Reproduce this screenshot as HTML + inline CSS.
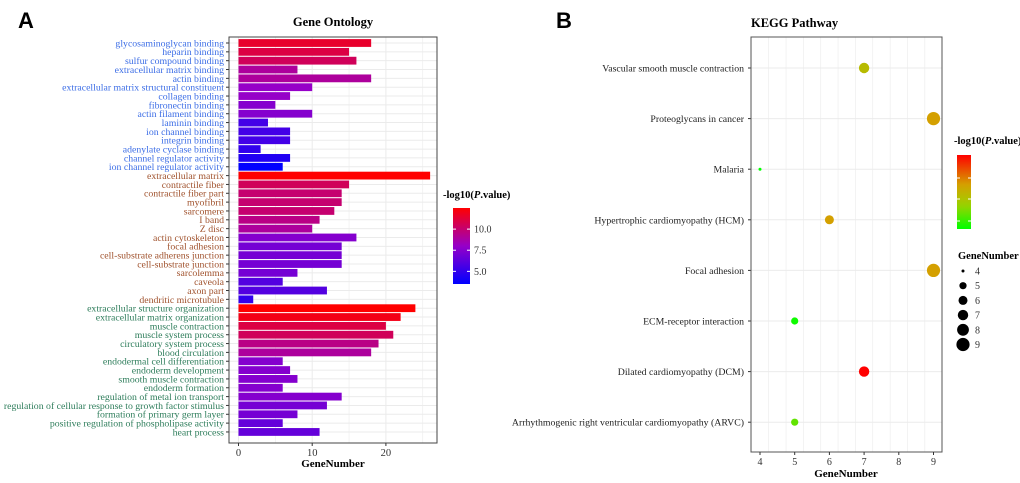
<!DOCTYPE html>
<html><head><meta charset="utf-8"><style>
html,body{margin:0;padding:0;background:#fff;}
svg{display:block;font-family:"Liberation Serif",serif;}
</style></head><body>
<svg id="s" width="1020" height="483" viewBox="0 0 1020 483"></svg>
<script>
const goTerms=["glycosaminoglycan binding","heparin binding","sulfur compound binding","extracellular matrix binding","actin binding","extracellular matrix structural constituent","collagen binding","fibronectin binding","actin filament binding","laminin binding","ion channel binding","integrin binding","adenylate cyclase binding","channel regulator activity","ion channel regulator activity","extracellular matrix","contractile fiber","contractile fiber part","myofibril","sarcomere","I band","Z disc","actin cytoskeleton","focal adhesion","cell-substrate adherens junction","cell-substrate junction","sarcolemma","caveola","axon part","dendritic microtubule","extracellular structure organization","extracellular matrix organization","muscle contraction","muscle system process","circulatory system process","blood circulation","endodermal cell differentiation","endoderm development","smooth muscle contraction","endoderm formation","regulation of metal ion transport","regulation of cellular response to growth factor stimulus","formation of primary germ layer","positive regulation of phospholipase activity","heart process"];
const goCategory=["MF","MF","MF","MF","MF","MF","MF","MF","MF","MF","MF","MF","MF","MF","MF","CC","CC","CC","CC","CC","CC","CC","CC","CC","CC","CC","CC","CC","CC","CC","BP","BP","BP","BP","BP","BP","BP","BP","BP","BP","BP","BP","BP","BP","BP"];
const goCounts=[18,15,16,8,18,10,7,5,10,4,7,7,3,7,6,26,15,14,14,13,11,10,16,14,14,14,8,6,12,2,24,22,20,21,19,18,6,7,8,6,14,12,8,6,11];
const goLogP=[11.5,11,10.5,9,9,8,8,7.5,7.5,5.5,5.5,5.5,5,4.5,3.5,12.5,10.5,10,10,10,9.5,9,7.5,7,7,7,7,6,6,5,12.5,12,11,10.5,9.5,9,7.5,7.5,7.5,7.5,7.5,7,7,6.5,6.5];
const goXTicks=[0,10,20];
const goLegendTicks=[5.0,7.5,10.0];

const keggTerms=["Vascular smooth muscle contraction","Proteoglycans in cancer","Malaria","Hypertrophic cardiomyopathy (HCM)","Focal adhesion","ECM-receptor interaction","Dilated cardiomyopathy (DCM)","Arrhythmogenic right ventricular cardiomyopathy (ARVC)"];
const keggCounts=[7,9,4,6,9,5,7,5];
const keggLogP=[0.45,0.6,0,0.6,0.6,0.03,1,0.2];
const keggXTicks=[4,5,6,7,8,9];
const keggSizeLegend=[4,5,6,7,8,9];

const svg=document.getElementById('s');
const NS="http://www.w3.org/2000/svg";
function mk(tag,attrs,parent,txt){const e=document.createElementNS(NS,tag);for(const k in attrs)e.setAttribute(k,attrs[k]);if(txt!==undefined)e.textContent=txt;(parent||svg).appendChild(e);return e;}
function hex(c){return "rgb("+c.map(v=>Math.round(v)).join(",")+")";}
function lerp(a,b,t){return a.map((v,i)=>v+(b[i]-v)*t);}
function grad(stops,t){t=Math.max(0,Math.min(1,t));for(let i=1;i<stops.length;i++){if(t<=stops[i][0]){const u=(t-stops[i-1][0])/(stops[i][0]-stops[i-1][0]);return hex(lerp(stops[i-1][1],stops[i][1],u));}}return hex(stops[stops.length-1][1]);}
const goStops=[[0,[0,0,255]],[0.5,[150,0,200]],[1,[255,0,0]]];
const keggStops=[[0,[0,255,0]],[0.33,[160,208,0]],[0.6,[212,160,0]],[1,[255,0,0]]];

// ---------- Panel A ----------
const A={l:229,r:437,t:37,b:443};
const gx=v=>238.5+(v-0)*7.37;
const gy=i=>43+i*8.84;
const pMin=3.5,pMax=12.5;
mk('text',{x:18,y:28,'font-family':'Liberation Sans,sans-serif','font-weight':'bold','font-size':22,},svg,'A');
mk('text',{x:333,y:26,'text-anchor':'middle','font-weight':'bold','font-size':12.5,},svg,'Gene Ontology');
const ga=mk('g',{});
mk('rect',{x:A.l,y:A.t,width:A.r-A.l,height:A.b-A.t,fill:'#fff'},ga);
for(let v=-0;v<=27;v+=5){const x=gx(v);if(x>A.r)break;const g=mk('line',{x1:x,x2:x,y1:A.t,y2:A.b,stroke:'#ebebeb','stroke-width':v%10===0?1:0.6},ga);}
goTerms.forEach((t,i)=>{mk('line',{x1:A.l,x2:A.r,y1:gy(i),y2:gy(i),stroke:'#ebebeb','stroke-width':1},ga);});
const catColor={MF:'#3d6ee6',CC:'#a0522d',BP:'#2e7d5b'};
goTerms.forEach((t,i)=>{
  const b=mk('rect',{x:gx(0),y:gy(i)-3.9,width:gx(goCounts[i])-gx(0),height:7.8,fill:grad(goStops,(goLogP[i]-pMin)/(pMax-pMin))},ga);
  
  
  const l=mk('text',{x:A.l-5,y:gy(i)+3.4,'text-anchor':'end','font-size':9.8,fill:catColor[goCategory[i]]},svg,t);
  
  
  mk('line',{x1:A.l-3,x2:A.l,y1:gy(i),y2:gy(i),stroke:'#333'},svg);
});
mk('rect',{x:A.l,y:A.t,width:A.r-A.l,height:A.b-A.t,fill:'none',stroke:'#444','stroke-width':1,});
goXTicks.forEach(v=>{mk('line',{x1:gx(v),x2:gx(v),y1:A.b,y2:A.b+3,stroke:'#333'});const t=mk('text',{x:gx(v),y:A.b+13,'text-anchor':'middle','font-size':10.5,fill:'#333'},svg,String(v));});
mk('text',{x:333,y:467,'text-anchor':'middle','font-weight':'bold','font-size':11,},svg,'GeneNumber');
const lt=mk('text',{x:443,y:198,'font-weight':'bold','font-size':10.5,},svg);
lt.innerHTML='-log10(<tspan font-style="italic">P</tspan>.value)';
const defs=mk('defs',{});
const lg=mk('linearGradient',{id:'ga',x1:0,y1:1,x2:0,y2:0},defs);
for(let k=0;k<=10;k++)mk('stop',{offset:k/10,'stop-color':grad(goStops,k/10)},lg);
const cbT=208,cbB=284;
mk('rect',{x:453,y:cbT,width:17,height:cbB-cbT,fill:'url(#ga)',});
const cy=v=>cbB-(v-pMin)/(pMax-pMin)*(cbB-cbT);
goLegendTicks.forEach(v=>{mk('line',{x1:453,x2:456,y1:cy(v),y2:cy(v),stroke:'#fff'});mk('line',{x1:467,x2:470,y1:cy(v),y2:cy(v),stroke:'#fff'});const t=mk('text',{x:474,y:cy(v)+3.5,'font-size':10,fill:'#333'},svg,v.toFixed(1));});

// ---------- Panel B ----------
const B={l:751,r:942,t:37,b:452};
const kx=v=>760+(v-4)*34.7;
const ky=i=>68+i*50.6;
const rs=n=>({4:1.5,5:3.6,6:4.5,7:5.2,8:5.9,9:6.6})[n]||(1.5+(n-4)*1.0);
mk('text',{x:556,y:28,'font-family':'Liberation Sans,sans-serif','font-weight':'bold','font-size':22,},svg,'B');
mk('text',{x:751,y:27,'font-weight':'bold','font-size':12.5,},svg,'KEGG Pathway');
const gb=mk('g',{});
for(let v=3.75;v<=9.25;v+=0.5){const x=kx(v);if(x<B.l||x>B.r)continue;mk('line',{x1:x,x2:x,y1:B.t,y2:B.b,stroke:'#ebebeb','stroke-width':Number.isInteger(v)?1:0.6},gb);}
keggTerms.forEach((t,i)=>{mk('line',{x1:B.l,x2:B.r,y1:ky(i),y2:ky(i),stroke:'#ebebeb','stroke-width':1},gb);});
keggTerms.forEach((t,i)=>{
  const c=mk('circle',{cx:kx(keggCounts[i]),cy:ky(i),r:rs(keggCounts[i]),fill:grad(keggStops,keggLogP[i])},gb);
  
  
  const l=mk('text',{x:B.l-7,y:ky(i)+3.5,'text-anchor':'end','font-size':9.8,fill:'#222'},svg,t);
  
  
  mk('line',{x1:B.l-3,x2:B.l,y1:ky(i),y2:ky(i),stroke:'#333'},svg);
});
mk('rect',{x:B.l,y:B.t,width:B.r-B.l,height:B.b-B.t,fill:'none',stroke:'#555','stroke-width':1,});
keggXTicks.forEach(v=>{mk('line',{x1:kx(v),x2:kx(v),y1:B.b,y2:B.b+3,stroke:'#333'});const t=mk('text',{x:kx(v),y:B.b+13,'text-anchor':'middle','font-size':10,fill:'#333'},svg,String(v));});
mk('text',{x:846,y:477,'text-anchor':'middle','font-weight':'bold','font-size':11,},svg,'GeneNumber');
const lt2=mk('text',{x:954,y:144,'font-weight':'bold','font-size':10.5,},svg);
lt2.innerHTML='-log10(<tspan font-style="italic">P</tspan>.value)';
const lg2=mk('linearGradient',{id:'gb',x1:0,y1:1,x2:0,y2:0},defs);
for(let k=0;k<=10;k++)mk('stop',{offset:k/10,'stop-color':grad(keggStops,k/10)},lg2);
mk('rect',{x:957,y:155,width:14,height:74,fill:'url(#gb)',});
[178,199,221].forEach(y=>{mk('line',{x1:957,x2:960,y1:y,y2:y,stroke:'#fff'});mk('line',{x1:968,x2:971,y1:y,y2:y,stroke:'#fff'});});
mk('text',{x:958,y:259,'font-weight':'bold','font-size':10.5,},svg,'GeneNumber');
keggSizeLegend.forEach((n,k)=>{const y=271+k*14.7;const c=mk('circle',{cx:963,cy:y,r:rs(n),fill:'#000'});const t=mk('text',{x:975,y:y+3.5,'font-size':10,fill:'#333'},svg,String(n));});
</script>
</body></html>
